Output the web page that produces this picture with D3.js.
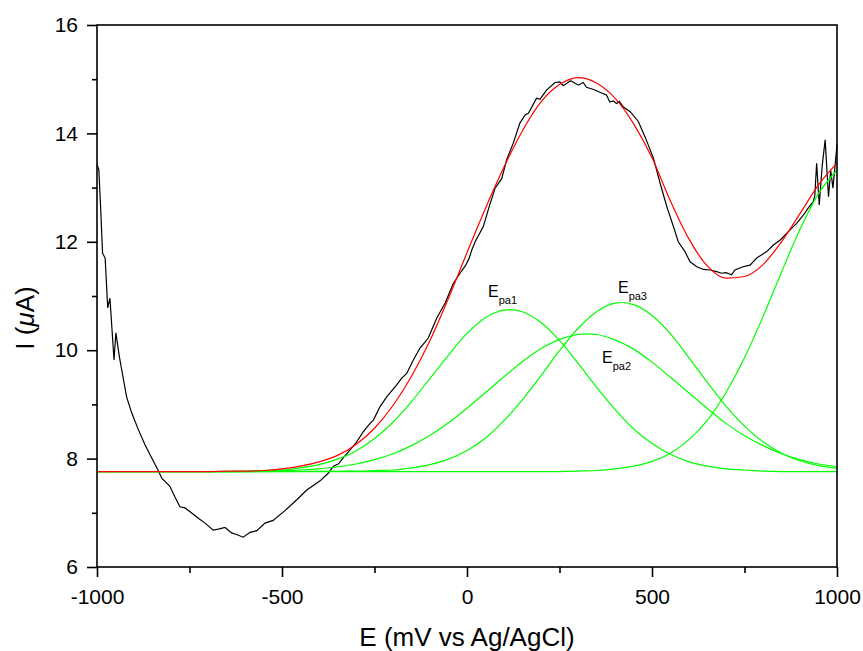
<!DOCTYPE html>
<html>
<head>
<meta charset="UTF-8">
<title>I vs E with fitted peaks</title>
<script src="https://cdn.jsdelivr.net/npm/d3@7"></script>
<style>
  body { margin: 0; background: #fff; }
  text { font-family: Arial, "Liberation Sans", sans-serif; }
</style>
</head>
<body>
<div id="chart"></div>
<script>
// measured current (E in mV, I in uA)
var measured = [
  [-1000, 13.42], [-995, 13.33], [-990, 12.6], [-985, 11.79], [-978, 11.70], [-971, 10.78],
  [-965, 10.96], [-954, 9.82], [-949, 10.32], [-940, 9.90], [-933, 9.63], [-920, 9.14],
  [-906, 8.84], [-888, 8.53], [-870, 8.25], [-852, 8.01], [-834, 7.77], [-825, 7.64],
  [-803, 7.49], [-790, 7.30], [-776, 7.11], [-762, 7.09], [-745, 7.00], [-726, 6.90],
  [-708, 6.81], [-686, 6.68], [-672, 6.70], [-654, 6.73], [-636, 6.63], [-623, 6.60],
  [-605, 6.55], [-586, 6.64], [-568, 6.67], [-546, 6.81], [-524, 6.86], [-492, 7.04],
  [-460, 7.24], [-433, 7.42], [-397, 7.59], [-375, 7.73], [-361, 7.86], [-348, 7.90],
  [-330, 8.05], [-316, 8.16], [-298, 8.31], [-280, 8.50], [-262, 8.65], [-253, 8.71],
  [-235, 8.96], [-217, 9.14], [-190, 9.36], [-177, 9.48], [-163, 9.57], [-145, 9.82],
  [-127, 10.04], [-105, 10.22], [-82, 10.59], [-59, 10.87], [-37, 11.23], [-19, 11.42],
  [-5, 11.55], [5, 11.68], [13, 11.85], [22, 12.00], [44, 12.28], [60, 12.65], [76, 12.99],
  [94, 13.17], [107, 13.51], [125, 13.82], [143, 14.19], [157, 14.34], [166, 14.37],
  [188, 14.65], [197, 14.63], [215, 14.80], [238, 14.94], [251, 14.95], [260, 14.88],
  [280, 14.97], [301, 14.89], [314, 14.94], [323, 14.85], [346, 14.80], [359, 14.76],
  [377, 14.71], [386, 14.58], [395, 14.60], [404, 14.55], [412, 14.59], [422, 14.49],
  [441, 14.40], [463, 14.22], [481, 13.94], [504, 13.54], [522, 13.08], [540, 12.65],
  [558, 12.28], [571, 12.00], [589, 11.82], [603, 11.63], [621, 11.54], [639, 11.49],
  [657, 11.48], [675, 11.45], [688, 11.42], [700, 11.43], [715, 11.39], [724, 11.48],
  [746, 11.54], [765, 11.57], [783, 11.70], [810, 11.82], [828, 11.94], [846, 12.03],
  [873, 12.22], [891, 12.34], [909, 12.49], [922, 12.62], [936, 12.74], [940, 12.85],
  [945, 13.45], [952, 12.68], [960, 13.40], [968, 13.88], [977, 12.83], [983, 13.32],
  [989, 12.99], [999, 13.72], [1000, 13.80]
];

// fitted sum (red)
var fitSum = [
  [-1000, 7.76], [-900, 7.76], [-800, 7.76], [-700, 7.76], [-650, 7.77], [-600, 7.77],
  [-550, 7.78], [-500, 7.81], [-450, 7.86], [-400, 7.94], [-350, 8.06], [-300, 8.26],
  [-250, 8.56], [-200, 8.98], [-150, 9.52], [-100, 10.18], [-50, 10.96], [0, 11.80],
  [50, 12.62], [100, 13.38], [150, 14.05], [200, 14.58], [250, 14.90], [300, 15.03],
  [350, 14.93], [400, 14.65], [450, 14.18], [500, 13.55], [550, 12.75], [600, 12.05],
  [650, 11.55], [700, 11.33], [750, 11.36], [800, 11.58], [850, 12.00], [900, 12.52],
  [950, 13.05], [1000, 13.45]
];

// fitted peaks (green)
var peak1 = [
  [-1000, 7.76], [-800, 7.76], [-700, 7.76], [-600, 7.77], [-550, 7.78], [-500, 7.79],
  [-450, 7.83], [-400, 7.89], [-350, 7.99], [-300, 8.14], [-250, 8.37], [-200, 8.67],
  [-150, 9.05], [-100, 9.48], [-50, 9.91], [0, 10.31], [50, 10.60], [100, 10.74],
  [116, 10.75], [150, 10.71], [200, 10.51], [250, 10.18], [300, 9.76], [350, 9.32],
  [400, 8.91], [450, 8.55], [500, 8.28], [550, 8.08], [600, 7.94], [650, 7.86],
  [700, 7.81], [750, 7.79], [800, 7.77], [900, 7.76], [1000, 7.76]
];
var peak2 = [
  [-1000, 7.76], [-800, 7.76], [-600, 7.76], [-500, 7.78], [-450, 7.79], [-400, 7.81],
  [-350, 7.85], [-300, 7.90], [-250, 7.98], [-200, 8.09], [-150, 8.24], [-100, 8.43],
  [-50, 8.66], [0, 8.93], [50, 9.22], [100, 9.51], [150, 9.79], [200, 10.03],
  [250, 10.20], [300, 10.29], [324, 10.30], [350, 10.29], [400, 10.19], [450, 10.02],
  [500, 9.78], [550, 9.50], [600, 9.21], [650, 8.92], [700, 8.65], [750, 8.42],
  [800, 8.24], [850, 8.09], [900, 7.98], [950, 7.90], [1000, 7.85]
];
var peak3 = [
  [-1000, 7.76], [-600, 7.76], [-300, 7.77], [-250, 7.78], [-200, 7.79], [-150, 7.83],
  [-100, 7.89], [-50, 7.99], [0, 8.15], [50, 8.38], [100, 8.70], [150, 9.09],
  [200, 9.53], [250, 9.99], [300, 10.40], [350, 10.71], [400, 10.87], [418, 10.88],
  [450, 10.84], [500, 10.64], [550, 10.30], [600, 9.86], [650, 9.40], [700, 8.97],
  [750, 8.60], [800, 8.31], [850, 8.10], [900, 7.96], [950, 7.87], [1000, 7.82]
];
var peak4 = [
  [-1000, 7.76], [0, 7.76], [200, 7.76], [300, 7.77], [350, 7.78], [400, 7.81],
  [450, 7.86], [500, 7.95], [550, 8.10], [600, 8.35], [650, 8.71], [700, 9.22],
  [750, 9.86], [800, 10.62], [850, 11.44], [900, 12.23], [950, 12.89], [1000, 13.32]
];

// peak labels: [main, subscript, E, I]
var peakLabels = [
  ["E", "pa1", 57, 10.98],
  ["E", "pa3", 408, 11.06],
  ["E", "pa2", 365, 9.76]
];

var xMajor = [-1000, -500, 0, 500, 1000];
var xMinor = [-750, -250, 250, 750];
var yMajor = [6, 8, 10, 12, 14, 16];
var yMinor = [7, 9, 11, 13, 15];

var width = 863, height = 651;
var margin = {top: 25, right: 26, bottom: 84, left: 97};

var svg = d3.select("#chart").append("svg")
  .attr("width", width)
  .attr("height", height);

var x = d3.scaleLinear().domain([-1000, 1000]).range([margin.left, width - margin.right]);
var y = d3.scaleLinear().domain([6, 16]).range([height - margin.bottom, margin.top]);

var line = d3.line()
  .x(function(d) { return x(d[0]); })
  .y(function(d) { return y(d[1]); });
var smooth = d3.line()
  .x(function(d) { return x(d[0]); })
  .y(function(d) { return y(d[1]); })
  .curve(d3.curveMonotoneX);

// curves
svg.append("path").datum(measured)
  .attr("d", line).attr("fill", "none")
  .attr("stroke", "#000").attr("stroke-width", 1.2);

[peak1, peak2, peak3, peak4].forEach(function(p) {
  svg.append("path").datum(p)
    .attr("d", smooth).attr("fill", "none")
    .attr("stroke", "#00ff00").attr("stroke-width", 1.2);
});

svg.append("path").datum(fitSum)
  .attr("d", smooth).attr("fill", "none")
  .attr("stroke", "#ff0000").attr("stroke-width", 1.2);

// frame
svg.append("rect")
  .attr("x", margin.left).attr("y", margin.top)
  .attr("width", width - margin.left - margin.right)
  .attr("height", height - margin.top - margin.bottom)
  .attr("fill", "none").attr("stroke", "#000").attr("stroke-width", 1.6);

// axes, plain numbers like "-1000"
var fmt = function(d) { return String(d); };
var bottom = height - margin.bottom;
svg.append("g").attr("transform", "translate(0," + bottom + ")")
  .call(d3.axisBottom(x).tickValues(xMajor).tickSize(10).tickSizeOuter(0).tickPadding(12).tickFormat(fmt));
svg.append("g").attr("transform", "translate(0," + bottom + ")")
  .call(d3.axisBottom(x).tickValues(xMinor).tickSize(6).tickSizeOuter(0).tickFormat(""));

svg.append("g").attr("transform", "translate(" + margin.left + ",0)")
  .call(d3.axisLeft(y).tickValues(yMajor).tickSize(10).tickSizeOuter(0).tickPadding(9).tickFormat(fmt));
svg.append("g").attr("transform", "translate(" + margin.left + ",0)")
  .call(d3.axisLeft(y).tickValues(yMinor).tickSize(5).tickSizeOuter(0).tickFormat(""));

svg.selectAll(".domain").remove();
svg.selectAll(".tick line").attr("stroke", "#000").attr("stroke-width", 1.6);
svg.selectAll(".tick text")
  .style("font-size", "21px")
  .style("font-family", "Arial, 'Liberation Sans', sans-serif")
  .attr("fill", "#000");

// axis titles
svg.append("text")
  .attr("x", (margin.left + width - margin.right) / 2)
  .attr("y", 646)
  .attr("text-anchor", "middle")
  .style("font-size", "26px")
  .text("E (mV vs Ag/AgCl)");

var yt = svg.append("text")
  .attr("transform", "translate(34,318) rotate(-90)")
  .attr("text-anchor", "middle")
  .style("font-size", "26px");
yt.append("tspan").text("I (");
yt.append("tspan").style("font-style", "italic").text("\u03bc");
yt.append("tspan").text("A)");

// peak labels
peakLabels.forEach(function(p) {
  var t = svg.append("text")
    .attr("x", x(p[2])).attr("y", y(p[3]))
    .style("font-size", "16px");
  t.append("tspan").text(p[0]);
  t.append("tspan").attr("dy", 7).style("font-size", "11px").text(p[1]);
});
</script>
</body>
</html>
